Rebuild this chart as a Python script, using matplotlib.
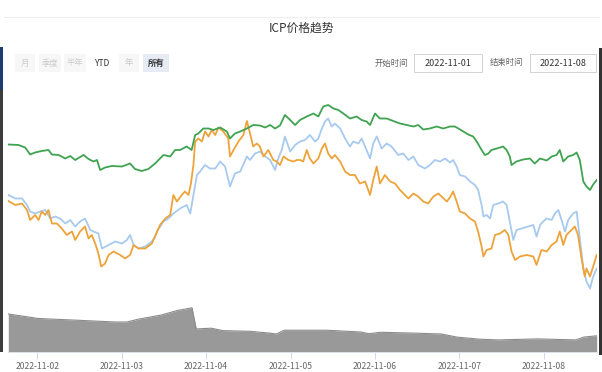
import numpy as np
import pandas as pd
import matplotlib
matplotlib.use('Agg')
import matplotlib.pyplot as plt
import matplotlib.dates as mdates
from matplotlib.patches import Rectangle

plt.rcParams['font.family'] = ['Noto Sans CJK SC', 'DejaVu Sans']

BASE = pd.Timestamp('2022-11-01')

# hours since 2022-11-01 00:00 and price
green_h = [15.8, 18.7, 20.6, 22.0, 23.4, 25.3, 27.2, 28.2, 30.1, 32.0, 33.4, 34.8, 37.2, 38.6,
           40.0, 41.0, 41.9, 43.3, 45.2, 48.1, 50.4, 51.8, 53.7, 55.6, 57.5, 59.9, 61.8, 63.2,
           64.6, 66.5, 67.9, 68.9, 69.8, 71.2, 72.7, 74.1, 76.0, 77.9, 78.8, 80.2, 81.7, 83.6,
           85.4, 87.3, 88.8, 90.2, 91.6, 93.0, 94.4, 95.9, 97.3, 98.7, 100.6, 102.5, 103.9,
           105.3, 106.7, 108.2, 109.6, 111.0, 112.9, 114.8, 116.2, 117.6, 118.6, 120.0, 121.4,
           123.3, 125.2, 127.1, 129.0, 130.9, 132.3, 133.7, 135.6, 137.5, 139.4, 141.3, 142.7,
           143.7, 145.1, 146.5, 147.9, 148.9, 150.3, 151.2, 152.2, 153.1, 154.6, 156.4, 157.4,
           158.3, 158.8, 160.2, 162.1, 164.0, 165.4, 166.9, 168.8, 170.2, 171.6, 172.5, 173.5,
           174.9, 176.3, 177.3, 178.2, 179.2, 180.1, 181.1, 182.0, 183.0]
green_v = [5.11, 5.10, 5.05, 4.91, 4.95, 4.98, 5.00, 4.91, 4.90, 4.83, 4.88, 4.80, 4.90, 4.82,
           4.77, 4.80, 4.60, 4.65, 4.68, 4.67, 4.73, 4.62, 4.58, 4.62, 4.73, 4.90, 4.87, 5.00,
           5.00, 5.07, 5.00, 5.30, 5.33, 5.43, 5.43, 5.40, 5.45, 5.37, 5.23, 5.33, 5.37, 5.43,
           5.50, 5.49, 5.45, 5.50, 5.43, 5.49, 5.70, 5.60, 5.50, 5.60, 5.67, 5.73, 5.67,
           5.87, 5.90, 5.83, 5.80, 5.73, 5.63, 5.67, 5.60, 5.57, 5.50, 5.73, 5.63,
           5.63, 5.58, 5.53, 5.50, 5.47, 5.50, 5.41, 5.43, 5.47, 5.43, 5.47, 5.47,
           5.43, 5.37, 5.31, 5.27, 5.17, 5.00, 4.90, 4.93, 5.00, 5.03, 5.07, 5.00,
           4.87, 4.70, 4.77, 4.81, 4.83, 4.73, 4.83, 4.79, 4.87, 4.90, 5.00, 4.77,
           4.87, 4.90, 4.95, 4.80, 4.37, 4.27, 4.20, 4.31, 4.40]

blue_h = [15.8, 17.8, 19.7, 21.1, 22.0, 23.4, 24.9, 26.3, 27.7, 29.1, 30.5, 32.0, 33.4, 34.8,
          36.2, 37.6, 39.1, 40.0, 41.4, 42.4, 44.3, 46.2, 48.1, 49.5, 50.4, 51.4, 52.8, 54.7,
          56.6, 57.5, 58.0, 59.9, 61.3, 62.7, 64.6, 66.5, 67.5, 68.4, 69.4, 70.3, 71.7, 73.1,
          74.6, 76.0, 77.4, 78.8, 80.2, 81.7, 83.6, 84.5, 85.9, 87.3, 88.8, 90.2, 91.6, 92.5,
          93.5, 94.4, 95.9, 97.3, 98.7, 100.1, 101.5, 103.0, 103.9, 104.9, 105.8, 106.7, 107.7,
          108.6, 110.1, 111.5, 112.9, 113.8, 115.3, 116.2, 117.6, 118.6, 119.5, 120.5, 121.9,
          123.3, 124.7, 126.6, 128.0, 129.5, 130.9, 132.3, 134.2, 135.6, 137.0, 138.5, 139.9,
          141.3, 142.2, 143.2, 144.1, 145.6, 147.0, 148.4, 149.3, 150.3, 150.8, 151.7, 152.7,
          153.6, 155.0, 156.4, 157.4, 158.3, 159.3, 160.2, 161.7, 163.5, 165.0, 165.9, 166.9,
          167.8, 168.8, 170.2, 171.1, 172.1, 173.0, 174.0, 174.9, 176.3, 177.3, 178.2, 179.2,
          180.1, 181.1, 182.0, 183.0]
blue_v = [4.10, 4.03, 4.03, 3.90, 3.77, 3.73, 3.77, 3.80, 3.63, 3.67, 3.63, 3.53, 3.60, 3.47,
          3.57, 3.63, 3.40, 3.37, 3.33, 3.03, 3.10, 3.17, 3.13, 3.20, 3.30, 3.10, 3.03, 3.07,
          3.17, 3.27, 3.37, 3.57, 3.63, 3.73, 3.83, 3.90, 3.73, 4.10, 4.50, 4.57, 4.70, 4.63,
          4.63, 4.77, 4.67, 4.27, 4.53, 4.57, 4.87, 4.80, 4.93, 4.97, 4.87, 4.80, 4.60, 4.83,
          5.00, 5.27, 4.97, 5.10, 5.17, 5.20, 5.30, 5.17, 5.23, 5.43, 5.57, 5.63, 5.47,
          5.53, 5.43, 5.23, 5.07, 5.17, 5.13, 5.23, 5.00, 4.83, 5.13, 5.27, 5.03,
          5.13, 5.07, 4.90, 4.93, 4.80, 4.87, 4.70, 4.63, 4.70, 4.80, 4.77, 4.83,
          4.75, 4.80, 4.67, 4.50, 4.47, 4.37, 4.30, 4.20, 3.90, 3.67, 3.70, 3.63,
          3.90, 3.93, 3.97, 3.90, 3.57, 3.20, 3.40, 3.43, 3.47, 3.50, 3.27, 3.50,
          3.57, 3.63, 3.60, 3.73, 3.80, 3.60, 3.37, 3.60, 3.73, 3.77, 3.23, 2.63,
          2.37, 2.23, 2.47, 2.63]

orange_h = [15.8, 17.8, 19.7, 21.1, 22.0, 23.4, 24.4, 25.3, 26.3, 27.2, 28.2, 29.6, 31.0, 32.4,
            33.9, 34.8, 36.2, 37.6, 38.6, 39.5, 40.5, 41.4, 42.2, 43.3, 44.3, 45.7, 47.6, 49.0,
            50.4, 51.4, 52.8, 54.7, 56.6, 57.5, 58.9, 60.4, 61.8, 62.7, 63.7, 65.1, 66.0, 67.0,
            67.7, 68.4, 68.9, 69.8, 70.8, 71.7, 72.7, 73.6, 74.6, 75.5, 76.9, 78.3, 78.8, 79.8,
            81.2, 82.6, 83.6, 84.5, 85.4, 86.4, 87.3, 88.3, 89.7, 91.1, 92.1, 93.0, 94.0, 95.4,
            96.8, 97.8, 98.7, 99.6, 100.6, 101.5, 102.5, 103.9, 104.9, 105.8, 106.7, 107.7,
            108.6, 110.1, 111.5, 112.9, 114.3, 115.7, 117.2, 118.6, 119.5, 120.5, 121.4, 122.8,
            124.3, 125.7, 127.1, 128.5, 129.5, 130.9, 132.3, 133.7, 135.1, 136.6, 138.0, 138.9,
            140.4, 141.3, 142.2, 143.2, 144.1, 145.6, 147.0, 148.4, 149.3, 150.3, 150.8, 151.7,
            153.1, 154.1, 155.5, 156.9, 157.9, 158.8, 159.8, 161.2, 163.1, 165.0, 165.9, 167.3,
            168.8, 170.2, 171.6, 172.5, 173.5, 174.4, 175.4, 176.8, 177.7, 178.7, 179.6, 180.1,
            181.1, 182.0, 183.0]
orange_v = [3.98, 3.90, 3.93, 3.80, 3.60, 3.70, 3.60, 3.77, 3.70, 3.80, 3.53, 3.53, 3.43, 3.30,
            3.37, 3.20, 3.37, 3.47, 3.23, 3.30, 3.13, 2.93, 2.67, 2.73, 2.90, 2.97, 2.90, 2.83,
            2.90, 3.10, 3.03, 3.03, 3.13, 3.27, 3.50, 3.63, 3.70, 4.10, 3.97, 4.10, 4.17, 4.10,
            4.33, 4.70, 5.17, 5.23, 5.17, 5.37, 5.27, 5.40, 5.30, 5.45, 5.37, 5.23, 4.87, 5.00,
            5.17, 5.30, 5.58, 5.33, 5.07, 5.13, 5.07, 4.87, 5.00, 4.80, 4.77, 4.70, 4.87, 4.80,
            4.77, 4.80, 4.80, 4.77, 5.00, 4.83, 4.73, 4.83, 5.03, 5.13, 4.93, 4.83,
            4.90, 4.77, 4.57, 4.50, 4.50, 4.33, 4.37, 4.10, 4.40, 4.67, 4.33, 4.50,
            4.37, 4.33, 4.20, 4.10, 4.03, 4.13, 4.07, 3.97, 3.93, 4.07, 4.13, 4.07,
            3.97, 4.05, 4.17, 3.97, 3.77, 3.73, 3.63, 3.57, 3.37, 3.07, 2.87, 3.00,
            3.03, 3.30, 3.33, 3.40, 3.30, 2.97, 2.80, 2.87, 2.90, 2.87, 2.70, 3.00,
            2.97, 3.10, 3.17, 3.37, 3.10, 3.30, 3.37, 3.47, 3.30, 2.83, 2.47, 2.63,
            2.47, 2.67, 2.90]

# navigator (volume-like area)
nav_h = [15.8, 24.4, 35.3, 46.2, 49.5, 52.7, 59.3, 63.7, 68.0, 69.2, 73.5, 76.7, 84.4, 89.8,
         92.0, 94.2, 100.7, 106.2, 116.0, 118.2, 121.5, 130.2, 138.9, 143.3, 149.8, 155.2,
         166.2, 177.1, 179.3, 183.0]
nav_v = [38, 33.5, 31.8, 30, 30, 32.8, 37, 41.4, 44.2, 23.1, 23.8, 21.4, 20.7, 19,
         18, 21.8, 21.8, 21.8, 20, 18.3, 19.7, 19, 18, 14.9, 12.8, 12.1,
         13.1, 12.1, 14.9, 16.2]


def to_time(hours):
    return BASE + pd.to_timedelta(np.array(hours), unit='h')


W, H = 602, 372
fig = plt.figure(figsize=(W / 100, H / 100), dpi=100)
fig.patch.set_facecolor('white')


def px_rect(x, y, w, h, **kw):
    fig.add_artist(Rectangle((x / W, 1 - (y + h) / H), w / W, h / H,
                             transform=fig.transFigure, **kw))


def px_text(x, y, s, **kw):
    fig.text(x / W, 1 - y / H, s, ha='center', va='center', **kw)


# frame strips of the screenshot
px_rect(0, 47, 3, 43, facecolor='#1f3b70', edgecolor='none')
px_rect(0, 90, 3, 262, facecolor='#3c3c3c', edgecolor='none')
px_rect(599, 48, 3, 307, facecolor='#333333', edgecolor='none')
px_rect(4, 17, 596, 0.6, facecolor='#eeeeee', edgecolor='none')

px_text(302, 28, 'ICP价格趋势', fontsize=8.5, color='#333333')

# range selector buttons
buttons = ['月', '季度', '半年', 'YTD', '年', '所有']
btn_x = [25, 50, 75, 103, 129, 156]
btn_w = [20, 22, 22, 0, 20, 26]
for lab, bx, bw in zip(buttons, btn_x, btn_w):
    if lab == 'YTD':
        px_text(bx, 63, lab, fontsize=6, color='#333333')
        continue
    if lab == '所有':
        px_rect(bx - bw / 2, 54, bw, 18, facecolor='#e6ebf5', edgecolor='none')
        px_text(bx, 63, lab, fontsize=6, color='#333333', fontweight='bold')
    else:
        px_rect(bx - bw / 2, 54, bw, 18, facecolor='#f7f7f7', edgecolor='none')
        px_text(bx, 63, lab, fontsize=6, color='#cccccc')

px_text(391, 63, '开始时间', fontsize=6, color='#666666')
px_rect(414, 54, 68, 18, facecolor='white', edgecolor='#cccccc', linewidth=0.6)
px_text(448, 63, '2022-11-01', fontsize=6.5, color='#333333')
px_text(506, 63, '结束时间', fontsize=6, color='#666666')
px_rect(530, 54, 66, 18, facecolor='white', edgecolor='#cccccc', linewidth=0.6)
px_text(563, 63, '2022-11-08', fontsize=6.5, color='#333333')

# main price lines
ax = fig.add_axes([8.3 / W, 72 / H, 588.4 / W, 205 / H])
ax.plot(to_time(blue_h), blue_v, color='#a7caee', lw=1.3)
ax.plot(to_time(orange_h), orange_v, color='#eea33a', lw=1.3)
ax.plot(to_time(green_h), green_v, color='#3fa351', lw=1.3)
ax.set_xlim(to_time([green_h[0]])[0], to_time([green_h[-1]])[0])
ax.set_ylim(2.0, 6.1)
ax.axis('off')

# navigator
nav = fig.add_axes([8.3 / W, 20 / H, 588.4 / W, 47 / H])
nt = to_time(nav_h)
nav.fill_between(nt, nav_v, 0, color='#999999', lw=0)
nav.plot(nt, nav_v, color='#8c8c8c', lw=0.8)
nav.set_xlim(nt[0], nt[-1])
nav.set_ylim(0, 47)
for s in ['top', 'right', 'left']:
    nav.spines[s].set_visible(False)
nav.spines['bottom'].set_color('#e0e6f0')
nav.spines['bottom'].set_linewidth(0.6)
nav.set_yticks([])
nav.xaxis.set_major_locator(mdates.DayLocator())
nav.xaxis.set_major_formatter(mdates.DateFormatter('%Y-%m-%d'))
nav.tick_params(axis='x', length=5, width=0.6, color='#ccd6eb', labelsize=6.2,
                labelcolor='#666666', pad=2)

fig.savefig('out.png', dpi=100)
